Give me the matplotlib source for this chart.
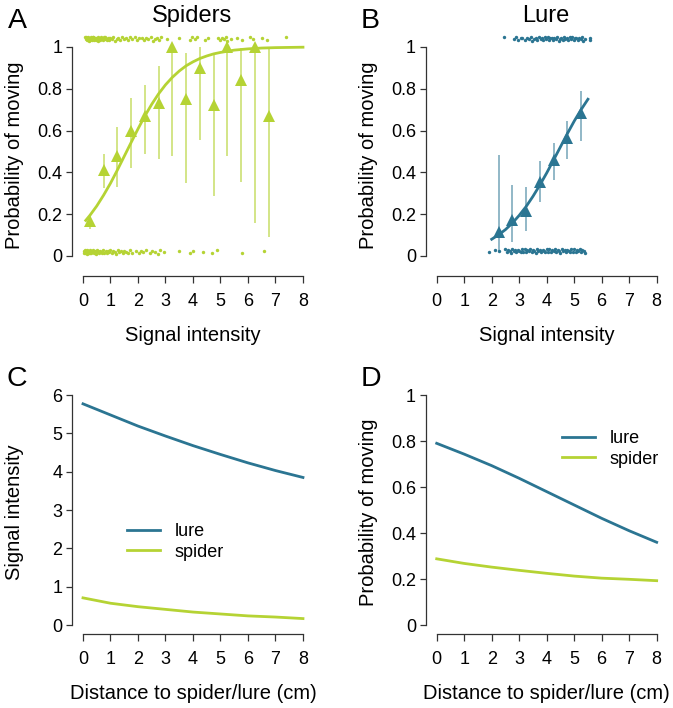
import numpy as np
import matplotlib
matplotlib.use("Agg")
import matplotlib.pyplot as plt

plt.rcParams["font.family"] = ["Liberation Sans", "DejaVu Sans"]

green = "#b5d334"
blue = "#2b7592"

# panel A: binned proportions (spiders)
a_bin_x = [0.25, 0.75, 1.25, 1.75, 2.25, 2.75, 3.25, 3.75, 4.25, 4.75, 5.25, 5.75, 6.25, 6.75]
a_bin_p = [0.168, 0.41, 0.48, 0.60, 0.67, 0.73, 1.0, 0.75, 0.90, 0.72, 1.0, 0.84, 1.0, 0.67]
a_lo = [0.128, 0.324, 0.332, 0.42, 0.489, 0.463, 0.476, 0.348, 0.553, 0.288, 0.476, 0.356, 0.157, 0.093]
a_hi = [0.20, 0.487, 0.617, 0.756, 0.816, 0.907, 1.0, 0.97, 1.0, 0.97, 1.0, 0.995, 1.0, 0.995]
# fitted curve
a_fit_x = [0.1, 0.25, 0.5, 0.75, 1.0, 1.25, 1.5, 1.75, 2.0, 2.25, 2.5, 2.75, 3.0, 3.25, 3.5,
           3.75, 4.0, 4.25, 4.5, 4.75, 5.0, 5.5, 6.0, 6.5, 7.0, 7.5, 8.0]
a_fit_p = [0.17, 0.194, 0.239, 0.291, 0.348, 0.411, 0.477, 0.543, 0.608, 0.670, 0.726, 0.776,
           0.819, 0.855, 0.885, 0.910, 0.929, 0.945, 0.957, 0.967, 0.974, 0.985, 0.991, 0.995,
           0.997, 0.998, 0.999]
# raw observations (moved = top, not moved = bottom)
a_top_x = [0.08, 0.1, 0.11, 0.13, 0.14, 0.15, 0.17, 0.18, 0.19, 0.2, 0.22, 0.23, 0.24, 0.26,
           0.28, 0.3, 0.31, 0.33, 0.35, 0.37, 0.38, 0.4, 0.42, 0.43, 0.46, 0.48, 0.5, 0.53,
           0.55, 0.57, 0.6, 0.62, 0.64, 0.68, 0.7, 0.72, 0.77, 0.79, 0.81, 0.86, 0.9, 0.93,
           0.95, 1.0, 1.05, 1.1, 1.16, 1.22, 1.28, 1.35, 1.42, 1.5, 1.57, 1.64, 1.72, 1.8, 1.88,
           1.96, 2.05, 2.14, 2.22, 2.3, 2.38, 2.47, 2.55, 2.62, 2.7, 2.78, 2.85, 3.05, 3.5, 3.9,
           3.95, 4.07, 4.15, 4.43, 4.55, 4.9, 4.97, 5.05, 5.12, 5.2, 5.25, 5.4, 5.6, 5.78, 6.07,
           6.2, 6.5, 6.7, 7.4]
a_bot_x = [0.03, 0.05, 0.06, 0.08, 0.09, 0.1, 0.12, 0.13, 0.14, 0.16, 0.17, 0.18, 0.2, 0.21,
           0.22, 0.24, 0.26, 0.28, 0.3, 0.32, 0.35, 0.37, 0.4, 0.42, 0.45, 0.48, 0.5, 0.53,
           0.56, 0.6, 0.63, 0.66, 0.7, 0.74, 0.78, 0.82, 0.86, 0.9, 0.95, 1.0, 1.05, 1.1, 1.15,
           1.2, 1.26, 1.32, 1.38, 1.44, 1.5, 1.57, 1.64, 1.72, 1.8, 1.92, 2.05, 2.12, 2.2, 2.3,
           2.42, 2.5, 2.62, 2.72, 2.8, 2.95, 3.5, 3.9, 4.0, 4.37, 4.7, 4.87, 5.78, 6.6]

# panel B: lure
b_bin_x = [2.25, 2.75, 3.25, 3.75, 4.25, 4.75, 5.25]
b_bin_p = [0.113, 0.173, 0.217, 0.356, 0.46, 0.564, 0.684]
b_lo = [0.026, 0.065, 0.121, 0.26, 0.364, 0.463, 0.548]
b_hi = [0.484, 0.34, 0.332, 0.452, 0.54, 0.644, 0.79]
b_fit_x = [2.0, 2.25, 2.5, 2.75, 3.0, 3.25, 3.5, 3.75, 4.0, 4.25, 4.5, 4.75, 5.0, 5.25, 5.5]
b_fit_p = [0.080, 0.101, 0.126, 0.157, 0.194, 0.236, 0.285, 0.339, 0.397, 0.459, 0.522,
           0.585, 0.645, 0.700, 0.750]
b_top_x = [2.45, 2.8, 2.88, 2.95, 3.05, 3.12, 3.2, 3.28, 3.35, 3.42, 3.48, 3.55, 3.6, 3.66,
           3.72, 3.78, 3.83, 3.88, 3.93, 3.98, 4.03, 4.08, 4.13, 4.18, 4.23, 4.28, 4.33, 4.38,
           4.43, 4.48, 4.53, 4.58, 4.63, 4.68, 4.73, 4.78, 4.83, 4.88, 4.93, 4.98, 5.03, 5.08,
           5.13, 5.18, 5.23, 5.28, 5.33, 5.38, 5.58, 5.58]
b_bot_x = [1.9, 2.12, 2.27, 2.5, 2.55, 2.6, 2.65, 2.7, 2.75, 2.8, 2.85, 2.9, 2.95, 3.0, 3.05,
           3.1, 3.15, 3.2, 3.25, 3.3, 3.35, 3.4, 3.45, 3.5, 3.55, 3.6, 3.65, 3.7, 3.75, 3.8,
           3.85, 3.9, 3.95, 4.0, 4.05, 4.1, 4.15, 4.2, 4.25, 4.3, 4.35, 4.4, 4.45, 4.5, 4.55,
           4.6, 4.65, 4.7, 4.75, 4.8, 4.85, 4.9, 4.95, 5.0, 5.05, 5.1, 5.15, 5.2, 5.25, 5.3,
           5.35, 5.4]
jitter = [0.006, -0.004, 0.009, -0.008, 0.001, 0.005, -0.006, 0.003, -0.002, 0.008, -0.009,
          0.0, 0.004, -0.005, 0.007, -0.003, 0.002, -0.007]

# panels C and D
dist = [0, 1, 2, 3, 4, 5, 6, 7, 8]
c_lure = [5.77, 5.48, 5.19, 4.93, 4.68, 4.45, 4.23, 4.03, 3.85]
c_spider = [0.71, 0.57, 0.48, 0.41, 0.34, 0.29, 0.24, 0.21, 0.17]
d_lure = [0.79, 0.743, 0.693, 0.638, 0.58, 0.522, 0.464, 0.41, 0.36]
d_spider = [0.288, 0.268, 0.252, 0.238, 0.225, 0.213, 0.204, 0.199, 0.193]

W, H = 673, 708
fig = plt.figure(figsize=(W / 100, H / 100), dpi=100)


def px_axes(left, bottom, width, height):
    return fig.add_axes([left / W, 1 - bottom / H, width / W, height / H])


def style(ax, ylim, yticks, ylabels):
    ax.set_xlim(-0.4, 8.35)
    ax.set_ylim(*ylim)
    for s in ["top", "right"]:
        ax.spines[s].set_visible(False)
    for s in ["left", "bottom"]:
        ax.spines[s].set_color("#333333")
        ax.spines[s].set_linewidth(0.9)
    ax.spines["bottom"].set_bounds(0, 8)
    ax.spines["left"].set_bounds(yticks[0], yticks[-1])
    ax.set_xticks(range(9))
    ax.set_yticks(yticks)
    ax.set_yticklabels(ylabels)
    ax.tick_params(axis="x", length=5, width=0.9, color="#333333", pad=7, labelsize=13)
    ax.tick_params(axis="y", length=4, width=0.9, color="#333333", pad=3, labelsize=13)
    ax.set_facecolor("none")


prob_ticks = [0, 0.2, 0.4, 0.6, 0.8, 1]
prob_labels = ["0", "0.2", "0.4", "0.6", "0.8", "1"]

axA = px_axes(72, 276, 240.6, 249.9)
axB = px_axes(425.7, 276, 240.6, 249.9)
axC = px_axes(72, 634.3, 240.6, 250.8)
axD = px_axes(425.7, 634.3, 240.6, 250.8)

# A
style(axA, (-0.096, 1.10), prob_ticks, prob_labels)
axA.scatter(a_top_x, 1.04 + np.resize(jitter, len(a_top_x)), s=6, color=green, linewidths=0)
axA.scatter(a_bot_x, 0.02 + np.resize(jitter[::-1], len(a_bot_x)), s=6, color=green, linewidths=0)
axA.vlines(a_bin_x, a_lo, a_hi, color=green, lw=1.1, alpha=0.75)
axA.plot(a_fit_x, a_fit_p, color=green, lw=2)
axA.plot(a_bin_x, a_bin_p, "^", color=green, ms=8, mew=0)

# B
style(axB, (-0.096, 1.10), prob_ticks, prob_labels)
axB.scatter(b_top_x, 1.04 + np.resize(jitter, len(b_top_x)), s=6, color=blue, linewidths=0)
axB.scatter(b_bot_x, 0.025 + np.resize(jitter[::-1], len(b_bot_x)), s=6, color=blue, linewidths=0)
axB.vlines(b_bin_x, b_lo, b_hi, color=blue, lw=1.1, alpha=0.65)
axB.plot(b_fit_x, b_fit_p, color=blue, lw=2)
axB.plot(b_bin_x, b_bin_p, "^", color=blue, ms=8, mew=0)

# C
style(axC, (-0.24, 6.3), [0, 1, 2, 3, 4, 5, 6], [str(i) for i in range(7)])
axC.plot(dist, c_lure, color=blue, lw=2, label="lure")
axC.plot(dist, c_spider, color=green, lw=2, label="spider")

# D
style(axD, (-0.04, 1.05), prob_ticks, prob_labels)
axD.plot(dist, d_lure, color=blue, lw=2, label="lure")
axD.plot(dist, d_spider, color=green, lw=2, label="spider")

for ax, xy in [(axC, (127, 542)), (axD, (562, 449))]:
    ax.legend(loc="center left", bbox_to_anchor=(xy[0] / W, 1 - xy[1] / H),
              bbox_transform=fig.transFigure, frameon=False, fontsize=13,
              handlelength=1.8, handletextpad=0.85, labelspacing=0.2,
              borderpad=0, borderaxespad=0)

# axis labels
for ax, yl in [(axA, "Probability of moving"), (axB, "Probability of moving"),
               (axC, "Signal intensity"), (axD, "Probability of moving")]:
    ax.set_ylabel(yl, fontsize=14.5)
    ax.yaxis.set_label_coords(-0.2, 0.485)
for ax, xl in [(axA, "Signal intensity"), (axB, "Signal intensity"),
               (axC, "Distance to spider/lure (cm)"), (axD, "Distance to spider/lure (cm)")]:
    ax.set_xlabel(xl, fontsize=14.5)
    ax.xaxis.set_label_coords(0.503, -0.2)

axA.set_title("Spiders", fontsize=17, y=1.016, pad=0)
axB.set_title("Lure", fontsize=17, y=1.016, pad=0)

for letter, x, y in [("A", 8, 28), ("B", 361, 28), ("C", 7, 386), ("D", 361, 386)]:
    fig.text(x / W, 1 - y / H, letter, fontsize=20.5, ha="left", va="baseline")

fig.savefig("out.png", dpi=100)
